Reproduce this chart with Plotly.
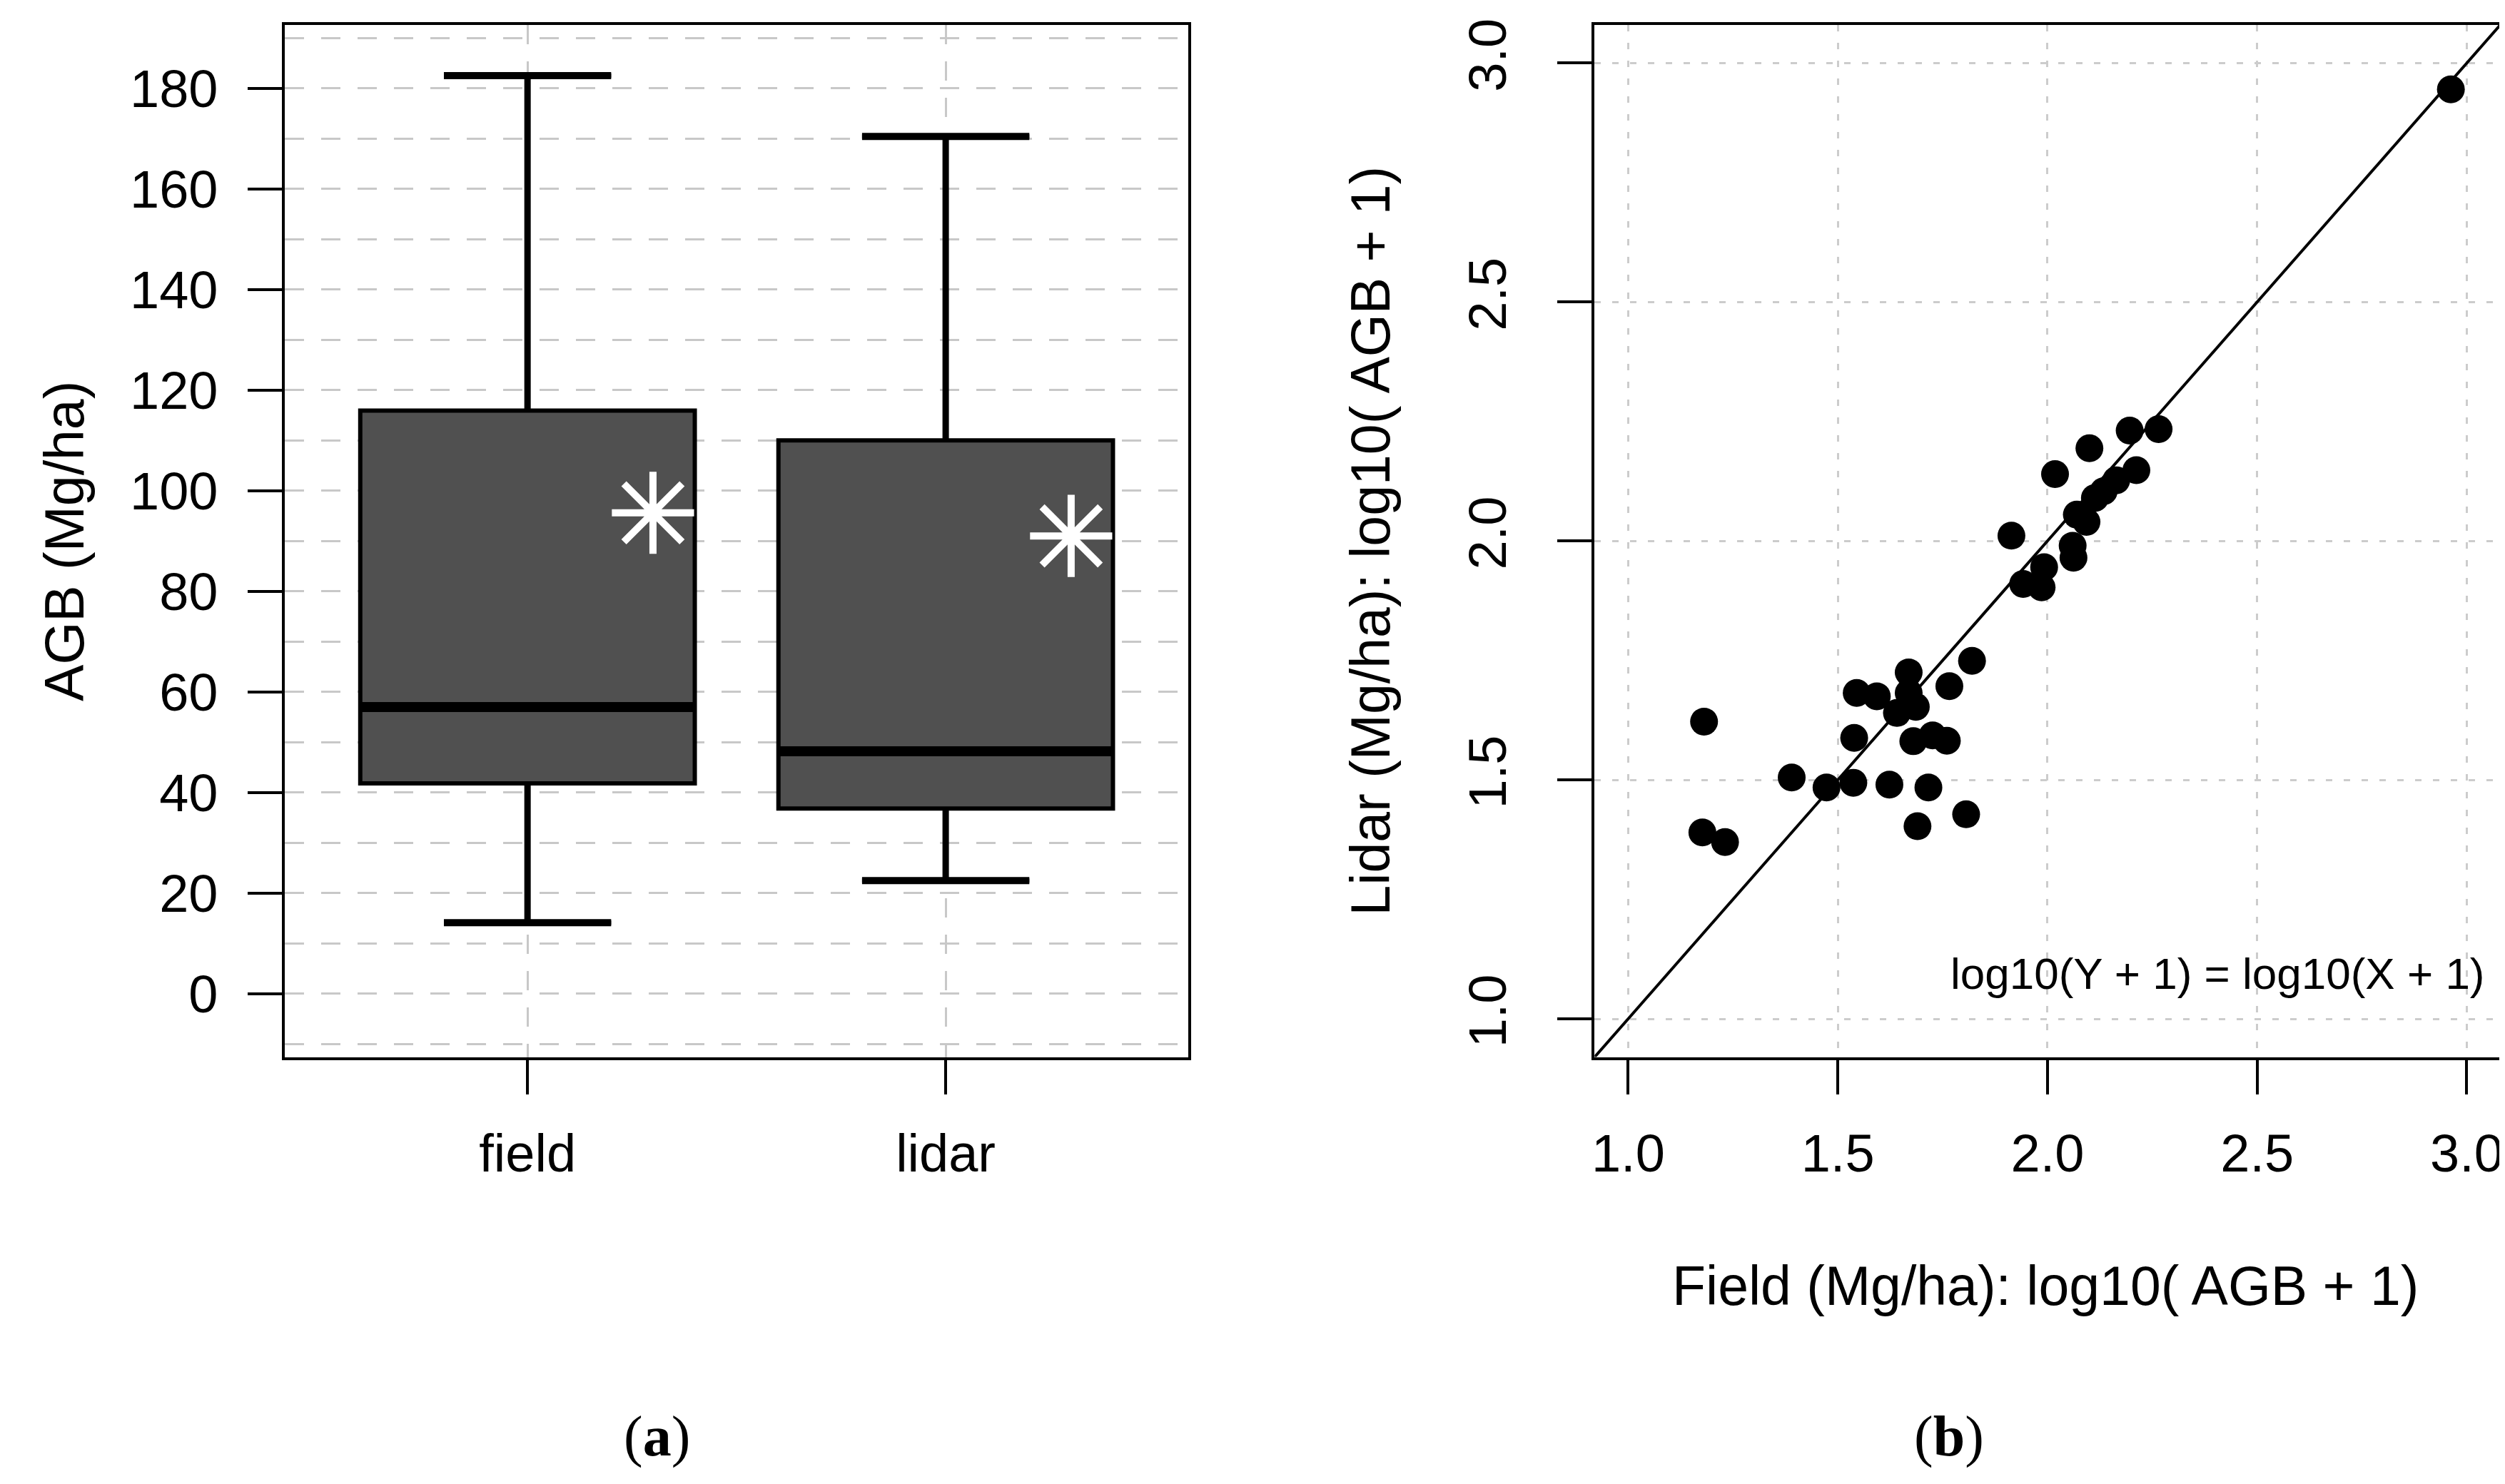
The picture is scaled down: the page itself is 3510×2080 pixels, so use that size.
import plotly.graph_objects as go

# panel (a): box plot summaries of AGB (Mg/ha)
categories = ["field", "lidar"]
cat_pos = [1, 2]
q1 = [41.8, 36.8]
median = [57.0, 48.2]
q3 = [115.9, 110.0]
lower = [14.1, 22.5]
upper = [182.5, 170.4]
mean = [95.6, 91.0]

# panel (b): log10(AGB + 1), field vs lidar
field_log = [2.962, 2.265, 2.196, 2.100, 2.212, 2.018, 2.164, 2.134, 2.113, 2.070,
             2.093, 1.914, 2.060, 2.062, 1.992, 1.942, 1.986, 1.820, 1.669, 1.766,
             1.545, 1.593, 1.669, 1.686, 1.641, 1.181, 1.539, 1.680, 1.726, 1.760,
             1.390, 1.473, 1.537, 1.623, 1.716, 1.806, 1.690, 1.177, 1.231]
lidar_log = [2.945, 2.234, 2.231, 2.194, 2.148, 2.140, 2.127, 2.104, 2.090, 2.055,
             2.040, 2.011, 1.990, 1.965, 1.945, 1.910, 1.903, 1.749, 1.725, 1.696,
             1.682, 1.675, 1.682, 1.653, 1.640, 1.622, 1.588, 1.581, 1.593, 1.582,
             1.505, 1.484, 1.494, 1.490, 1.484, 1.428, 1.403, 1.390, 1.370]
lim = [0.92, 3.08]

BOX_W = 0.8
CAP_W = 0.4
MEAN_OFF = 0.3
FONT = "Liberation Sans"
TICK_FS = 74
TITLE_FS = 77

fig = go.Figure()

fig.add_trace(go.Box(
    x=cat_pos, q1=q1, median=median, q3=q3, lowerfence=lower, upperfence=upper,
    width=BOX_W, whiskerwidth=0.5, fillcolor="#505050", boxpoints=False,
    line=dict(color="black", width=6), xaxis="x", yaxis="y", showlegend=False))

# heavier whiskers, caps and medians, like R's boxplot
wx, wy, mx, my, cx, cy = [], [], [], [], [], []
for p, a, m, b, lo, hi in zip(cat_pos, q1, median, q3, lower, upper):
    wx += [p, p, None, p, p, None]
    wy += [lo, a, None, b, hi, None]
    mx += [p - BOX_W / 2, p + BOX_W / 2, None]
    my += [m, m, None]
    cx += [p - CAP_W / 2, p + CAP_W / 2, None, p - CAP_W / 2, p + CAP_W / 2, None]
    cy += [lo, lo, None, hi, hi, None]
fig.add_trace(go.Scatter(x=wx, y=wy, mode="lines", line=dict(color="black", width=9),
                         xaxis="x", yaxis="y", showlegend=False))
fig.add_trace(go.Scatter(x=mx, y=my, mode="lines", line=dict(color="black", width=14),
                         xaxis="x", yaxis="y", showlegend=False))
fig.add_trace(go.Scatter(x=cx, y=cy, mode="lines", line=dict(color="black", width=10),
                         xaxis="x", yaxis="y", showlegend=False))
fig.add_trace(go.Scatter(
    x=[p + MEAN_OFF for p in cat_pos], y=mean, mode="markers",
    marker=dict(symbol="asterisk-open", size=96, color="white",
                line=dict(color="white", width=10)),
    xaxis="x", yaxis="y", showlegend=False))

fig.add_trace(go.Scatter(x=lim, y=lim, mode="lines", line=dict(color="black", width=4),
                         xaxis="x2", yaxis="y2", showlegend=False))
fig.add_trace(go.Scatter(x=field_log, y=lidar_log, mode="markers",
                         marker=dict(color="black", size=39),
                         xaxis="x2", yaxis="y2", showlegend=False))

frame = dict(showline=True, mirror=True, linecolor="black", linewidth=4,
             ticks="outside", ticklen=48, tickwidth=4, tickcolor="black",
             zeroline=False, tickfont=dict(family=FONT, size=TICK_FS, color="black"))
grid_a = dict(showgrid=True, gridcolor="#c8c8c8", gridwidth=3, griddash="27px,24px")
grid_b = dict(showgrid=True, gridcolor="#cccccc", gridwidth=3, griddash="9px,16px")

dom_y = [0.2928, 0.9914]
fig.update_layout(
    width=3510, height=2080, autosize=False,
    margin=dict(l=0, r=0, t=0, b=0),
    paper_bgcolor="white", plot_bgcolor="white",
    xaxis=dict(domain=[0.1106, 0.472], range=[0.42, 2.58], tickvals=cat_pos,
               ticktext=categories, ticklabelstandoff=20, **frame, **grid_a),
    yaxis=dict(domain=dom_y, range=[-12.6, 192.6], tick0=0, dtick=20,
               ticklabelstandoff=27,
               minor=dict(dtick=10, showgrid=True, gridcolor="#c8c8c8", gridwidth=3,
                          griddash="27px,24px", ticks=""),
               **frame, **grid_a),
    xaxis2=dict(domain=[0.6346, 0.997], range=lim, tick0=1, dtick=0.5,
                tickformat=".1f", ticklabelstandoff=20, anchor="y2", **frame, **grid_b),
    yaxis2=dict(domain=dom_y, range=lim, tick0=1, dtick=0.5, tickformat=".1f",
                tickangle=-90, ticklabelstandoff=43, anchor="x2", **frame, **grid_b),
)

mid_y = (dom_y[0] + dom_y[1]) / 2
notes = [
    dict(text="AGB (Mg/ha)", x=0.0222, y=mid_y, textangle=-90),
    dict(text="Lidar (Mg/ha): log10( AGB + 1)", x=0.5449, y=mid_y, textangle=-90),
    dict(text="Field (Mg/ha): log10( AGB + 1)", x=0.815, y=0.138, textangle=0),
]
for n in notes:
    fig.add_annotation(text=n["text"], x=n["x"], y=n["y"], xref="paper", yref="paper",
                       textangle=n["textangle"], showarrow=False,
                       xanchor="center", yanchor="middle",
                       font=dict(family=FONT, size=TITLE_FS, color="black"))

fig.add_annotation(text="log10(Y + 1) = log10(X + 1)", x=0.985, y=1.095,
                   xref="x2 domain", yref="y2", xanchor="right", yanchor="middle",
                   showarrow=False, font=dict(family=FONT, size=62, color="black"))

for lab, px in [("a", 0.2593), ("b", 0.7765)]:
    fig.add_annotation(text="(<b>%s</b>)" % lab, x=px, y=0.036, xref="paper", yref="paper",
                       xanchor="center", yanchor="middle", showarrow=False,
                       font=dict(family="Liberation Serif", size=80, color="black"))

fig.write_html("out.html")
